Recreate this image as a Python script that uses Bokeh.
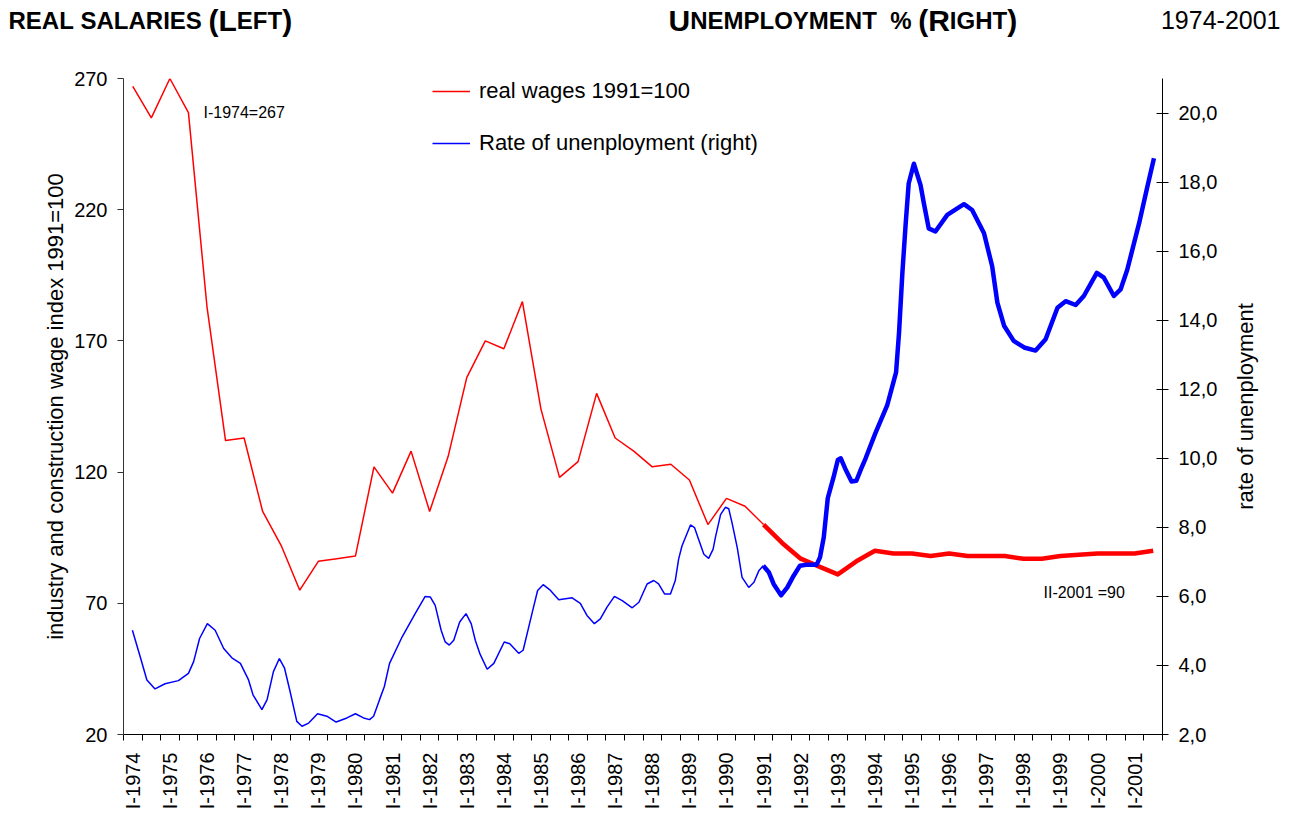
import math
from bokeh.plotting import figure
from bokeh.layouts import column, row
from bokeh.models import (Range1d, LinearAxis, FixedTicker, CustomJSTickFormatter,
                          Label, Legend, LegendItem)
from bokeh.core.properties import value
from bokeh.embed import file_html
from bokeh.resources import INLINE

# ---------------- data ----------------
years = list(range(1974, 2002))
# real wages (1991=100), semi-annual, I-1974 ... II-2001
real_wages = [267, 255, 270, 257, 183, 132, 133, 105, 92, 75,
              86, 87, 88, 122, 112, 128, 105, 126, 156, 170,
              167, 185, 144, 118, 124, 150, 133, 128, 122, 123,
              117, 100, 110, 107, 100, 93, 87, 84, 81, 86,
              90, 89, 89, 88, 89, 88, 88, 88, 87, 87,
              88, 88.5, 89, 89, 89, 90]
# unemployment rate (%), time in years
unemp_time = [1974.24, 1974.45, 1974.63, 1974.85, 1975.12, 1975.48, 1975.75, 1975.89, 1976.05, 1976.26,
              1976.47, 1976.70, 1976.92, 1977.15, 1977.37, 1977.49, 1977.73, 1977.87, 1978.04, 1978.20,
              1978.34, 1978.48, 1978.67, 1978.81, 1978.99, 1979.23, 1979.48, 1979.73, 1980.02, 1980.25,
              1980.47, 1980.63, 1980.74, 1980.90, 1981.03, 1981.17, 1981.51, 1981.86, 1982.13, 1982.27,
              1982.40, 1982.56, 1982.67, 1982.78, 1982.90, 1983.06, 1983.23, 1983.37, 1983.48, 1983.60,
              1983.80, 1983.98, 1984.26, 1984.41, 1984.65, 1984.77, 1984.92, 1985.05, 1985.16, 1985.31,
              1985.49, 1985.59, 1985.73, 1986.09, 1986.31, 1986.49, 1986.69, 1986.85, 1987.03, 1987.23,
              1987.44, 1987.71, 1987.89, 1988.11, 1988.29, 1988.42, 1988.58, 1988.74, 1988.87, 1988.96,
              1989.05, 1989.28, 1989.39, 1989.50, 1989.64, 1989.77, 1989.89, 1989.95, 1990.09, 1990.22,
              1990.31, 1990.40, 1990.54, 1990.67, 1990.85, 1990.99, 1991.12, 1991.24, 1991.39, 1991.52,
              1991.72, 1991.89, 1992.06, 1992.23, 1992.43, 1992.68, 1992.77, 1992.87, 1992.98, 1993.13,
              1993.25, 1993.33, 1993.45, 1993.62, 1993.75, 1993.88, 1994.00, 1994.26, 1994.58, 1994.76,
              1994.82, 1994.90, 1994.99, 1995.08, 1995.16, 1995.30, 1995.48, 1995.57, 1995.70, 1995.88,
              1996.20, 1996.47, 1996.65, 1996.87, 1997.19, 1997.41, 1997.55, 1997.73, 1997.99, 1998.27,
              1998.58, 1998.85, 1999.17, 1999.39, 1999.66, 1999.88, 2000.23, 2000.42, 2000.69, 2000.87,
              2001.05, 2001.37, 2001.59, 2001.77]
unemp_rate = [5.02, 4.25, 3.58, 3.32, 3.47, 3.56, 3.77, 4.11, 4.78, 5.21,
              5.02, 4.49, 4.22, 4.06, 3.58, 3.15, 2.72, 3.01, 3.82, 4.20,
              3.92, 3.29, 2.38, 2.24, 2.33, 2.60, 2.53, 2.36, 2.48, 2.60,
              2.48, 2.43, 2.53, 3.01, 3.39, 4.06, 4.83, 5.50, 6.00, 5.98,
              5.74, 5.02, 4.68, 4.59, 4.73, 5.26, 5.50, 5.21, 4.73, 4.35,
              3.89, 4.06, 4.68, 4.63, 4.35, 4.44, 5.11, 5.69, 6.17, 6.34,
              6.19, 6.07, 5.90, 5.96, 5.80, 5.45, 5.21, 5.35, 5.69, 6.00,
              5.88, 5.67, 5.83, 6.36, 6.46, 6.36, 6.07, 6.07, 6.46, 7.08,
              7.46, 8.07, 7.99, 7.65, 7.22, 7.10, 7.37, 7.70, 8.37, 8.58,
              8.54, 8.13, 7.41, 6.55, 6.26, 6.41, 6.74, 6.89, 6.70, 6.36,
              6.03, 6.26, 6.60, 6.89, 6.92, 6.92, 7.13, 7.70, 8.85, 9.43,
              9.95, 10.00, 9.70, 9.33, 9.35, 9.70, 10.00, 10.72, 11.53, 12.25,
              12.49, 13.64, 15.37, 16.81, 17.96, 18.53, 17.91, 17.38, 16.66, 16.57,
              17.05, 17.24, 17.36, 17.19, 16.52, 15.56, 14.51, 13.84, 13.40, 13.21,
              13.12, 13.45, 14.36, 14.55, 14.44, 14.70, 15.37, 15.23, 14.70, 14.89,
              15.46, 16.81, 17.86, 18.69]
left_ticks = [20, 70, 120, 170, 220, 270]
right_ticks = [2, 4, 6, 8, 10, 12, 14, 16, 18, 20]
bold_from = 1991.24  # thick lines from I-1991

# ---------------- layout ----------------
W = 1290
HEAD = 60
H = 812 - HEAD
PW = 1225                      # main chart width, the rest holds the right axis title
FRAME_L, FRAME_R, FRAME_T, FRAME_B = 123, 1162, 78, 738   # page pixels
FONT = "Liberation Sans"

wage_x = [y + 0.25 + 0.5 * h for y in years for h in range(2)]

def bare(fig):
    fig.outline_line_color = None
    fig.xgrid.visible = False
    fig.ygrid.visible = False
    try:
        fig.frame_align = False
    except Exception:
        pass

# ---- header strip with the titles ----
head = figure(width=W, height=HEAD, x_range=Range1d(0, W), y_range=Range1d(HEAD, 0),
              title=None, output_backend="svg", toolbar_location=None,
              x_axis_type=None, y_axis_type=None, min_border=0)
bare(head)

BOLD_W = {" ": 278, "%": 889, "(": 333, ")": 333, "A": 722, "E": 667, "F": 611, "G": 778,
          "H": 722, "I": 278, "L": 611, "M": 833, "N": 722, "O": 778, "P": 667, "R": 722,
          "S": 667, "T": 611, "U": 722, "Y": 667}
SMALL, BIG = 24, 30
BASE = 20

def hlab(x, y, text, size, **kw):
    head.add_layout(Label(x=x, y=y, text=text, text_font=FONT, text_font_size=size,
                          text_color="black", **kw))

def smallcaps(x0, y0, parts):
    # parts: (text, is_big); spaces only advance the pen
    x = x0
    for txt, big in parts:
        size = BIG if big else SMALL
        if txt.strip():
            hlab(x, y0, txt, f"{size}px", text_font_style="bold", text_baseline="alphabetic")
        x += sum(BOLD_W[c] for c in txt) / 1000.0 * size

smallcaps(8, BASE, [("REAL", False), (" ", False), ("SALARIES", False), (" ", False),
                    ("(L", True), ("EFT", False), (")", True)])
smallcaps(668, BASE, [("U", True), ("NEMPLOYMENT", False), ("  ", False), ("%", False),
                      (" ", False), ("(R", True), ("IGHT", False), (")", True)])
hlab(1280, BASE - 1, "1974-2001", "25px", text_align="right", text_baseline="alphabetic")

# ---- main chart ----
p = figure(width=PW, height=H, x_range=Range1d(1974, 2002), y_range=Range1d(20, 270),
           output_backend="svg", toolbar_location=None,
           min_border_left=FRAME_L, min_border_right=PW - FRAME_R,
           min_border_top=FRAME_T - HEAD, min_border_bottom=HEAD + H - FRAME_B)
p.extra_y_ranges = {"u": Range1d(2, 21)}
p.xgrid.visible = False
p.ygrid.visible = False
p.outline_line_color = None

def sx(px):
    return 1974 + (px - FRAME_L) * 28.0 / (FRAME_R - FRAME_L)
def sy(py):
    return 20 + (FRAME_B - py) * 250.0 / (FRAME_B - FRAME_T)

# x axis
xa = p.xaxis[0]
xa.ticker = FixedTicker(ticks=[y + 0.25 for y in years],
                        minor_ticks=[1974 + 0.5 * k for k in range(57)])
xa.formatter = CustomJSTickFormatter(code="return 'I-' + Math.floor(tick);")
xa.major_label_orientation = math.pi / 2
xa.major_tick_out = 0
xa.major_tick_in = 0
xa.minor_tick_out = 6
xa.minor_tick_in = 0
xa.minor_tick_line_color = "black"
xa.axis_line_color = "black"
xa.major_label_standoff = 12
xa.major_label_text_font = FONT
xa.major_label_text_font_size = "20px"
xa.major_label_text_color = "black"

# left axis
ya = p.yaxis[0]
ya.ticker = FixedTicker(ticks=left_ticks, minor_ticks=[])
ya.major_tick_out = 6
ya.major_tick_in = 0
ya.minor_tick_out = 0
ya.minor_tick_in = 0
ya.axis_line_color = "#333333"
ya.major_tick_line_color = "#333333"
ya.major_label_standoff = 10
ya.major_label_text_font = FONT
ya.major_label_text_font_size = "20px"
ya.major_label_text_color = "black"
ya.axis_label = "industry and construction wage index 1991=100"
ya.axis_label_text_font = FONT
ya.axis_label_text_font_size = "22px"
ya.axis_label_text_font_style = "normal"
ya.axis_label_text_color = "black"
ya.axis_label_standoff = 3

# right axis
ra = LinearAxis(y_range_name="u",
                ticker=FixedTicker(ticks=right_ticks, minor_ticks=[]),
                formatter=CustomJSTickFormatter(code="return tick.toFixed(1).replace('.', ',');"))
ra.major_tick_out = 6
ra.major_tick_in = 6
ra.minor_tick_out = 0
ra.minor_tick_in = 0
ra.axis_line_color = "black"
ra.major_label_standoff = 10
ra.major_label_text_font = FONT
ra.major_label_text_font_size = "20px"
ra.major_label_text_color = "black"
p.add_layout(ra, "right")

# ---------------- lines ----------------
RED, BLUE = "#FF0000", "#0000FF"
k_w = 34  # I-1991
r_thin = p.line(wage_x[:k_w + 1], real_wages[:k_w + 1], line_color=RED, line_width=1.5)
p.line(wage_x[k_w:], real_wages[k_w:], line_color=RED, line_width=4.5, line_join="round")

k_u = unemp_time.index(bold_from)
b_thin = p.line(unemp_time[:k_u + 1], unemp_rate[:k_u + 1], line_color=BLUE, line_width=1.5,
                y_range_name="u")
p.line(unemp_time[k_u:], unemp_rate[k_u:], line_color=BLUE, line_width=4.5,
       line_join="round", y_range_name="u")

# ---------------- legend ----------------
legend = Legend(items=[LegendItem(label="real wages 1991=100", renderers=[r_thin]),
                       LegendItem(label="Rate of unenployment (right)", renderers=[b_thin])],
                location=(309, 578), border_line_color=None, background_fill_alpha=0,
                label_text_font=FONT, label_text_font_size="22px", label_text_color="black",
                glyph_width=38, glyph_height=20, label_standoff=9, spacing=26,
                padding=0, margin=0)
p.add_layout(legend)

# ---------------- annotations ----------------
def lab(x, y, text, size, **kw):
    p.add_layout(Label(x=x, y=y, text=text, text_font=FONT, text_font_size=size,
                       text_color="black", **kw))

lab(sx(203), sy(112), "I-1974=267", "16px", text_baseline="middle")
lab(sx(1043), sy(595), "II-2001 =90", "16px", text_baseline="middle")

# ---- right axis title strip ----
RW = W - PW
rlab = figure(width=RW, height=H, x_range=Range1d(0, RW), y_range=Range1d(0, 1),
              output_backend="svg", toolbar_location=None, x_axis_type=None, y_axis_type=None,
              min_border=0)
rlab.outline_line_color = None
rlab.xgrid.visible = False
rlab.ygrid.visible = False
rlab.text(x=[1245 - PW], y=[0.5], text=["rate of unenployment"], angle=math.pi / 2,
          text_font=value(FONT), text_font_size="22px", text_color="black",
          text_align="center", text_baseline="middle")

open("out.html", "w").write(file_html(column(head, row(p, rlab, spacing=0), spacing=0), INLINE))
